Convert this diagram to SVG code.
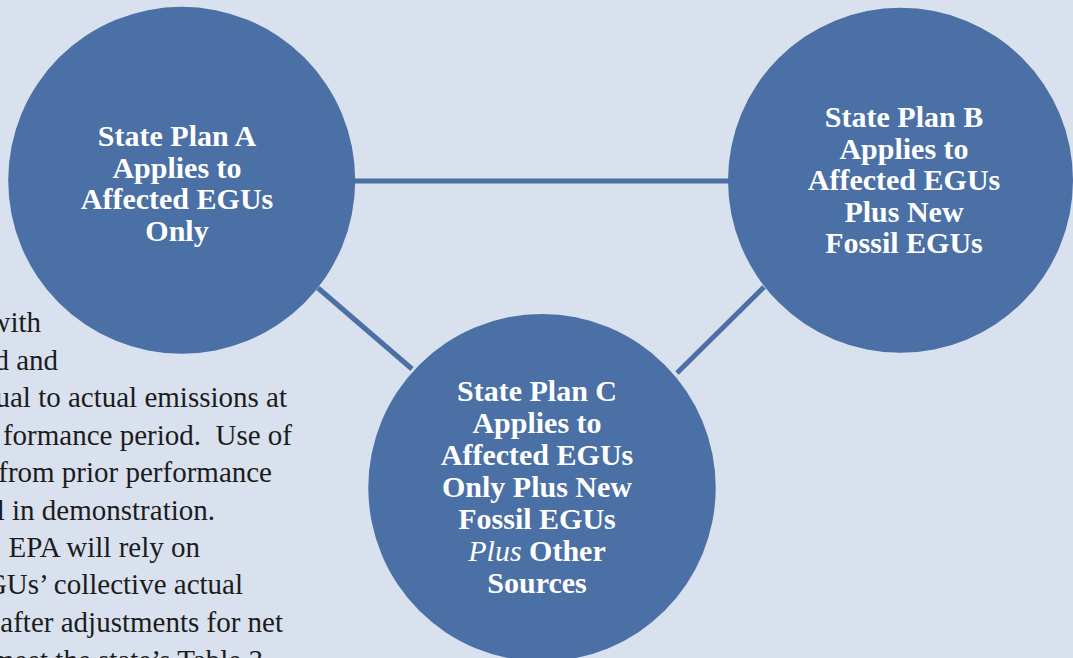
<svg xmlns="http://www.w3.org/2000/svg" width="1073" height="658" viewBox="0 0 1073 658">
<style>
.bg{fill:#d9e1ee}
.node{fill:#4a70a5}
.conn{stroke:#4a70a5;stroke-width:5;fill:none}
.body{font-family:"Liberation Serif","Times New Roman",serif;font-size:29px;fill:#1c1c1c;text-anchor:end;white-space:pre}
.lbl{font-family:"Liberation Serif","Times New Roman",serif;font-size:30px;font-weight:bold;fill:#ffffff;text-anchor:middle}
.it{font-style:italic;font-weight:normal}
</style>
<rect class="bg" x="0" y="0" width="1073" height="658"/>
<g id="body-text">
<text class="body" x="41" y="332">with</text>
<text class="body" x="58" y="370">d and</text>
<text class="body" x="287" y="407">qual to actual emissions at</text>
<text class="body" x="292" y="445" xml:space="preserve">formance period.  Use of</text>
<text class="body" x="272" y="482">from prior performance</text>
<text class="body" x="215" y="520">l in demonstration.</text>
<text class="body" x="200" y="557">, EPA will rely on</text>
<text class="body" x="243" y="594">GUs’ collective actual</text>
<text class="body" x="283" y="632">after adjustments for net</text>
<text class="body" x="263" y="670">meet the state’s Table 3</text>
</g>
<g id="connectors">
<line class="conn" x1="355" y1="181" x2="729" y2="181"/>
<line class="conn" x1="318" y1="288" x2="412" y2="369"/>
<line class="conn" x1="764" y1="287" x2="677" y2="373"/>
</g>
<g id="node-a">
<circle class="node" cx="181.7" cy="180.3" r="173.5"/>
<text class="lbl" x="177" y="146">State Plan A</text>
<text class="lbl" x="177" y="177.5">Applies to</text>
<text class="lbl" x="177" y="209">Affected EGUs</text>
<text class="lbl" x="177" y="240.5">Only</text>
</g>
<g id="node-b">
<circle class="node" cx="900.5" cy="180.3" r="172.5"/>
<text class="lbl" x="904" y="127">State Plan B</text>
<text class="lbl" x="904" y="158.5">Applies to</text>
<text class="lbl" x="904" y="190">Affected EGUs</text>
<text class="lbl" x="904" y="221.5">Plus New</text>
<text class="lbl" x="904" y="253">Fossil EGUs</text>
</g>
<g id="node-c">
<circle class="node" cx="542" cy="487.7" r="173.7"/>
<text class="lbl" x="537" y="401">State Plan C</text>
<text class="lbl" x="537" y="433">Applies to</text>
<text class="lbl" x="537" y="465">Affected EGUs</text>
<text class="lbl" x="537" y="497">Only Plus New</text>
<text class="lbl" x="537" y="529">Fossil EGUs</text>
<text class="lbl" x="537" y="561"><tspan class="it">Plus</tspan> Other</text>
<text class="lbl" x="537" y="593">Sources</text>
</g>
</svg>
